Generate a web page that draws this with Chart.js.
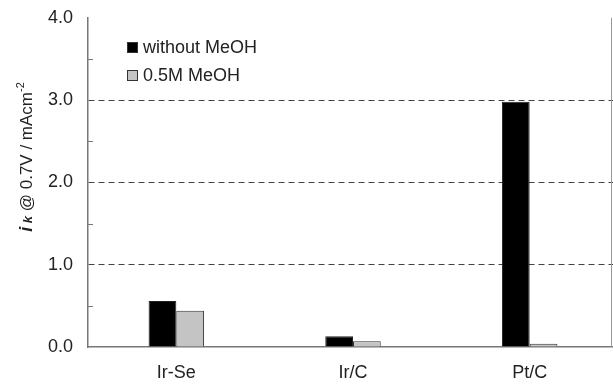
<!DOCTYPE html>
<html lang="en">
<head>
    <meta charset="UTF-8">
    <title>ik @ 0.7V</title>
    <style>
        html, body {
            margin: 0;
            padding: 0;
            background: #fff;
            overflow: hidden;
        }
        #wrap {
            width: 618px;
            height: 392px;
            margin-top: -8px;
        }
    </style>
</head>
<body>
    <div id="wrap"><canvas id="myChart" width="618" height="392"></canvas></div>

    <script src="https://cdn.jsdelivr.net/npm/chart.js"></script>
    <script>
        // data
        const categories = ['Ir-Se', 'Ir/C', 'Pt/C'];
        const withoutMeOH = [0.56, 0.13, 2.98];
        const withMeOH = [0.44, 0.07, 0.04];
        const seriesNames = ['without MeOH', '0.5M MeOH'];
        const yTicks = [0, 1, 2, 3, 4];

        const FONT = '"Liberation Sans", Arial, sans-serif';
        const SHIFT = 8; // canvas is moved up by this much in the page

        // minor ticks, right frame line, axis title and legend
        const decorPlugin = {
            id: 'decor',
            afterDraw(chart) {
                const ctx = chart.ctx;
                const area = chart.chartArea;
                const y = chart.scales.y;
                ctx.save();

                // minor ticks (inside)
                ctx.strokeStyle = '#777';
                ctx.lineWidth = 1;
                for (let v = 0.5; v < 4; v += 1) {
                    const py = Math.round(y.getPixelForValue(v)) + 0.5;
                    ctx.beginPath();
                    ctx.moveTo(area.left, py);
                    ctx.lineTo(area.left + 5, py);
                    ctx.stroke();
                }

                // right frame
                ctx.beginPath();
                ctx.moveTo(611.5, area.top);
                ctx.lineTo(611.5, area.bottom);
                ctx.strokeStyle = '#999';
                ctx.stroke();

                // y axis title: i k @ 0.7V / mAcm-2
                const parts = [
                    { t: 'i', f: 'italic bold 18px ' + FONT, dy: 0 },
                    { t: ' k', f: 'italic bold 13px ' + FONT, dy: 0 },
                    { t: ' @ 0.7V / mAcm', f: '17px ' + FONT, dy: 0 },
                    { t: '-2', f: '11px ' + FONT, dy: -8 }
                ];
                let total = 0;
                parts.forEach(p => { ctx.font = p.f; p.w = ctx.measureText(p.t).width; total += p.w; });
                ctx.translate(32, 157 + SHIFT);
                ctx.rotate(-Math.PI / 2);
                ctx.fillStyle = '#222';
                ctx.textBaseline = 'alphabetic';
                let x = -total / 2;
                parts.forEach(p => {
                    ctx.font = p.f;
                    ctx.fillText(p.t, x, p.dy);
                    x += p.w;
                });
                ctx.setTransform(1, 0, 0, 1, 0, 0);

                // legend
                chart.data.datasets.forEach((ds, i) => {
                    const top = 42 + SHIFT + i * 28;
                    ctx.fillStyle = ds.backgroundColor;
                    ctx.fillRect(127, top, 11, 11);
                    ctx.strokeStyle = '#333';
                    ctx.lineWidth = 1;
                    ctx.strokeRect(127.5, top + 0.5, 10, 10);
                    ctx.fillStyle = '#222';
                    ctx.font = '18px ' + FONT;
                    ctx.textBaseline = 'alphabetic';
                    ctx.fillText(ds.label, 143, top + 11);
                });
                ctx.restore();
            }
        };

        const ctx = document.getElementById('myChart').getContext('2d');
        const chart = new Chart(ctx, {
            type: 'bar',
            data: {
                labels: categories,
                datasets: [{
                    label: seriesNames[0],
                    data: withoutMeOH,
                    backgroundColor: '#000000',
                    borderColor: '#222222',
                    borderWidth: 1,
                    categoryPercentage: 0.314,
                    barPercentage: 1
                }, {
                    label: seriesNames[1],
                    data: withMeOH,
                    backgroundColor: '#c4c4c4',
                    borderColor: '#333333',
                    borderWidth: 1,
                    categoryPercentage: 0.314,
                    barPercentage: 1
                }]
            },
            options: {
                responsive: false,
                animation: false,
                layout: { padding: { top: 6, right: 0, bottom: 0, left: 0 } },
                plugins: {
                    legend: { display: false },
                    tooltip: { enabled: false }
                },
                scales: {
                    x: {
                        grid: { display: false, drawTicks: false },
                        border: { display: true, color: '#777', width: 1.5 },
                        ticks: {
                            color: '#222',
                            font: { family: FONT, size: 18 },
                            padding: 15
                        },
                        afterFit(scale) { scale.height = 37; }
                    },
                    y: {
                        min: 0,
                        max: 4,
                        afterBuildTicks(scale) {
                            scale.ticks = yTicks.map(v => ({ value: v }));
                        },
                        grid: {
                            drawTicks: false,
                            color: c => (c.tick && c.tick.value > 0 && c.tick.value < 4) ? '#444' : 'rgba(0,0,0,0)',
                            lineWidth: 1
                        },
                        border: { display: true, color: '#777', width: 1.5, dash: [6, 4] },
                        ticks: {
                            color: '#222',
                            font: { family: FONT, size: 18 },
                            padding: 15,
                            callback: v => v.toFixed(1)
                        },
                        afterFit(scale) { scale.width = 88; }
                    }
                }
            },
            plugins: [decorPlugin]
        });
    </script>
</body>
</html>
